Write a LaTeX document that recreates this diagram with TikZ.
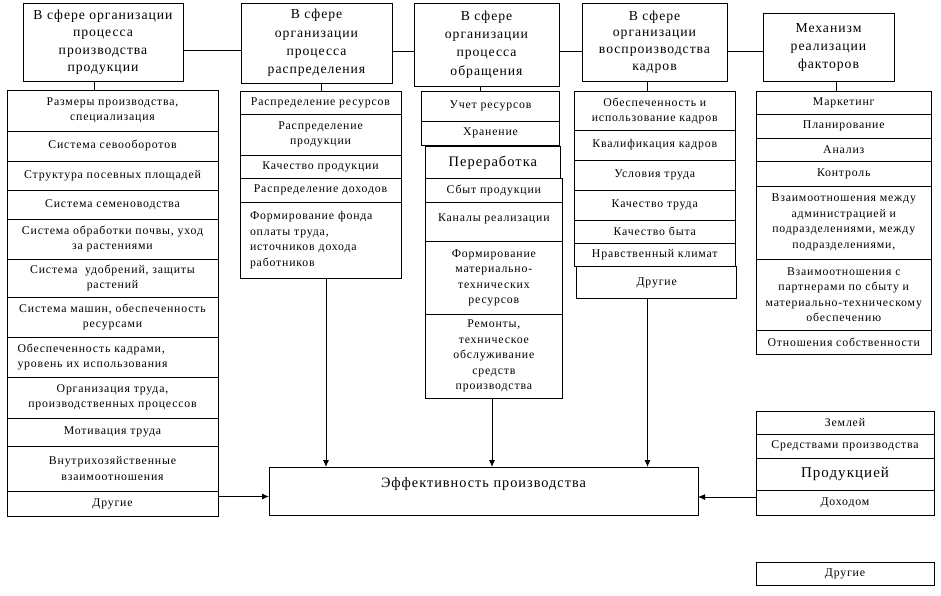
\documentclass[tikz,border=0pt]{standalone}
\usepackage{fontspec}
\setmainfont{Liberation Serif}
\newfontfamily\spacedserif{Liberation Serif}[LetterSpace=7]
\usetikzlibrary{arrows.meta}
\newcommand\mkcell[7][]{%
  \node[cellsty,#1,minimum width={(#5-#3)*1pt},minimum height={(#6-#4)*1pt}] (#2) at ({(#3+#5)/2},{(#4+#6)/2}) {#7};}
\tikzset{
  cellsty/.style={draw, inner sep=0pt, outer sep=0pt, align=center, line width=0.9pt,
    font=\spacedserif\fontsize{11.8}{15.5}\selectfont},
  hdr/.style={font=\spacedserif\fontsize{13.7}{17.5}\selectfont},
  conn/.style={line width=0.9pt},
  arr/.style={line width=0.9pt, -{Latex[length=7pt,width=6pt]}}
}
\begin{document}
\begin{tikzpicture}[x=1pt,y=-1pt]
\useasboundingbox (0,0) rectangle (941,595);
% headers
\mkcell[hdr]{h1}{23}{3}{183}{81}{В сфере организации\\процесса\\производства\\продукции}
\mkcell[font=\spacedserif\fontsize{13.7}{18.3}\selectfont]{h2}{241}{3}{392}{83}{В сфере\\организации\\процесса\\распределения}
\mkcell[font=\spacedserif\fontsize{13.7}{18.3}\selectfont]{h3}{414}{3}{559}{86}{В сфере\\организации\\процесса\\обращения}
\mkcell[font=\spacedserif\fontsize{13.7}{16.7}\selectfont]{h4}{582}{3}{727}{81}{В сфере\\организации\\воспроизводства\\кадров}
\mkcell[font=\spacedserif\fontsize{13.7}{18}\selectfont]{h5}{763}{13}{894}{81}{Механизм\\реализации\\факторов}
\draw[conn] (h1.east |- 0,50.5) -- (h2.west |- 0,50.5);
\draw[conn] (h2.east |- 0,51.7) -- (h3.west |- 0,51.7);
\draw[conn] (h3.east |- 0,51.7) -- (h4.west |- 0,51.7);
\draw[conn] (h4.east |- 0,51.7) -- (h5.west |- 0,51.7);
% column 1
\mkcell{a1}{7}{90}{218}{131}{Размеры производства,\\специализация}
\mkcell{a2}{7}{131}{218}{161}{Система севооборотов}
\mkcell{a3}{7}{161}{218}{190}{Структура посевных площадей}
\mkcell{a4}{7}{190}{218}{219}{Система семеноводства}
\mkcell{a5}{7}{219}{218}{259}{Система обработки почвы, уход\\за растениями}
\mkcell{a6}{7}{259}{218}{297}{Система\ \ удобрений, защиты\\растений}
\mkcell{a7}{7}{297}{218}{337}{Система машин, обеспеченность\\ресурсами}
\mkcell[text width=190pt,align=left]{a8}{7}{337}{218}{377}{Обеспеченность кадрами,\\уровень их использования}
\mkcell{a9}{7}{377}{218}{418}{Организация труда,\\производственных процессов}
\mkcell{a10}{7}{418}{218}{446}{Мотивация труда}
\mkcell{a11}{7}{446}{218}{491}{Внутрихозяйственные\\взаимоотношения}
\mkcell{a12}{7}{491}{218}{516}{Другие}
\draw[conn] (h1.south -| 94.3,0) -- (a1.north -| 94.3,0);
% column 2
\mkcell{b1}{240}{91}{401}{114}{Распределение ресурсов}
\mkcell{b2}{240}{114}{401}{155}{Распределение\\продукции}
\mkcell{b3}{240}{155}{401}{178}{Качество продукции}
\mkcell{b4}{240}{178}{401}{202}{Распределение доходов}
\mkcell[text width=141pt,align=left]{b5}{240}{202}{401}{278}{Формирование фонда\\оплаты труда,\\источников дохода\\работников}
\draw[conn] (h2.south -| 321,0) -- (b1.north -| 321,0);
% column 3
\mkcell{c1}{421.7}{91.7}{559.3}{121}{Учет ресурсов}
\mkcell{c2}{421.7}{121}{559.3}{145.7}{Хранение}
\mkcell[font=\spacedserif\fontsize{14.5}{18}\selectfont]{c3}{425}{146.7}{560.7}{178.3}{Переработка}
\mkcell{c4}{425}{178.3}{562.7}{202.3}{Сбыт продукции}
\mkcell{c5}{425}{202.3}{562.7}{241.7}{Каналы реализации\\[-6pt]\mbox{}}
\mkcell{c6}{425}{241.7}{562.7}{314.3}{Формирование\\материально-\\технических\\ресурсов}
\mkcell{c7}{425}{314.3}{562.7}{398.3}{Ремонты,\\техническое\\обслуживание\\средств\\производства}
\draw[conn] (h3.south -| 480,0) -- (c1.north -| 480,0);
% column 4
\mkcell{d1}{574.5}{91.7}{735}{130}{Обеспеченность и\\использование кадров}
\mkcell{d2}{574.5}{130}{735}{160}{Квалификация кадров}
\mkcell{d3}{574.5}{160}{735}{190}{Условия труда}
\mkcell{d4}{574.5}{190}{735}{220}{Качество труда}
\mkcell{d5}{574.5}{220}{735}{243.3}{Качество быта}
\mkcell{d6}{574.5}{243.3}{735}{266.7}{Нравственный климат}
\mkcell{d7}{576.7}{266.7}{736.7}{298.3}{Другие}
\draw[conn] (h4.south -| 647.7,0) -- (d1.north -| 647.7,0);
% column 5
\mkcell{e1}{756.5}{91}{931}{114}{Маркетинг}
\mkcell{e2}{756.5}{114}{931}{138}{Планирование}
\mkcell{e3}{756.5}{138}{931}{161}{Анализ}
\mkcell{e4}{756.5}{161}{931}{186}{Контроль}
\mkcell{e5}{756.5}{186}{931}{259}{Взаимоотношения между\\администрацией и\\подразделениями, между\\подразделениями,}
\mkcell{e6}{756.5}{259}{931}{330}{Взаимоотношения с\\партнерами по сбыту и\\материально-техническому\\обеспечению}
\mkcell{e7}{756.5}{330}{931}{354}{Отношения собственности}
\draw[conn] (h5.south -| 836.7,0) -- (e1.north -| 836.7,0);
% column 6
\mkcell{f1}{756}{411}{934}{434}{Землей}
\mkcell{f2}{756}{434}{934}{458}{Средствами производства}
\mkcell[font=\spacedserif\fontsize{15}{18}\selectfont]{f3}{756}{458}{934}{490}{Продукцией}
\mkcell{f4}{756}{490}{934}{515}{Доходом}
\mkcell{f5}{756}{562}{934}{585}{Другие}
% effectiveness
\mkcell[font=\spacedserif\fontsize{14.3}{17}\selectfont]{eff}{269}{467}{698}{515}{Эффективность производства\\\mbox{}}
% arrows
\draw[arr] (a12.east |- 0,496.5) -- (eff.west |- 0,496.5);
\draw[arr] (f4.west |- 0,497) -- (eff.east |- 0,497);
\draw[arr] (b5.south -| 326,0) -- (eff.north -| 326,0);
\draw[arr] (c7.south -| 492,0) -- (eff.north -| 492,0);
\draw[arr] (d7.south -| 647.5,0) -- (eff.north -| 647.5,0);
\end{tikzpicture}
\end{document}
